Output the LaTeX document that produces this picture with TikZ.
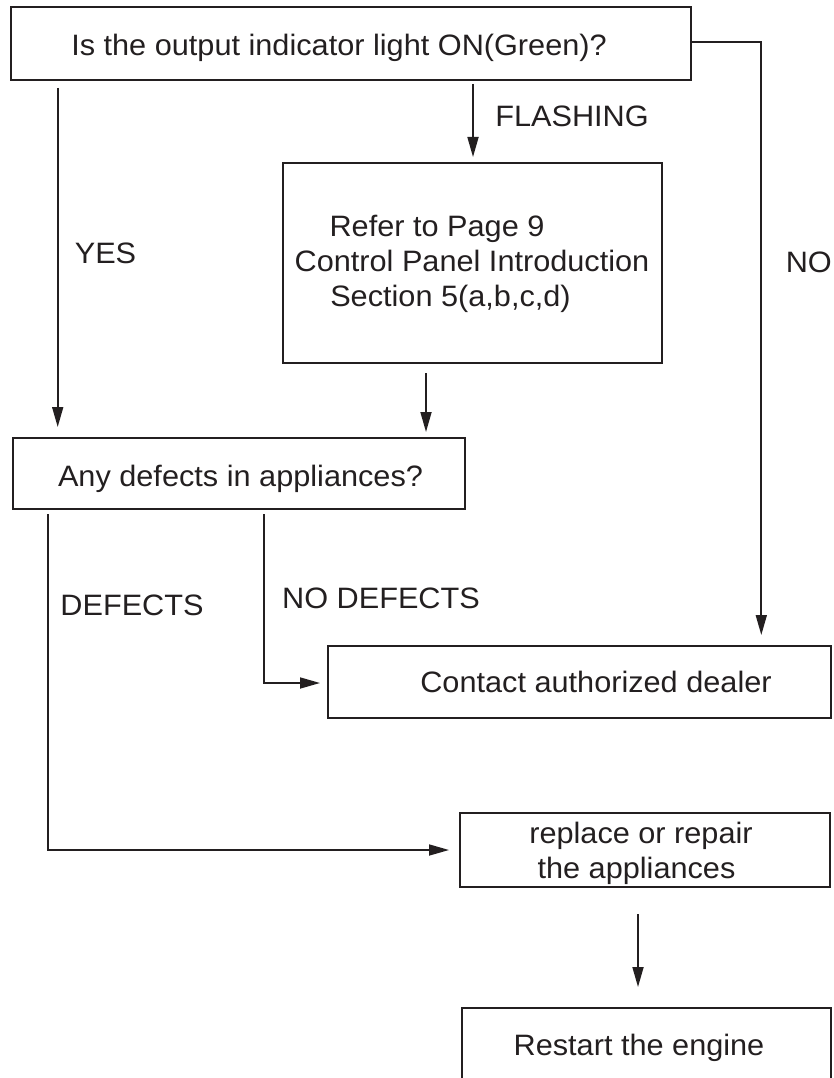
\documentclass[tikz,border=0pt]{standalone}
\usepackage{fontspec}
\setmainfont{Liberation Sans}[FakeStretch=1.04]
\usetikzlibrary{arrows.meta}
\definecolor{ink}{HTML}{231F20}
\begin{document}
\begin{tikzpicture}[x=1pt,y=-1pt,
  box/.style={draw=ink,line width=2pt,inner sep=0pt,fill=none},
  txt/.style={text=ink,font=\fontsize{29.5}{35}\selectfont,inner sep=0pt,anchor=base},
  arr/.style={draw=ink,line width=1.7pt,-{Triangle[length=20pt,width=11pt]}},
  ln/.style={draw=ink,line width=1.7pt}]
\useasboundingbox (0,0) rectangle (833,1078);
% boxes
\node[box,minimum width=680pt,minimum height=72.5pt] (top) at (351,43.75) {};
\node[box,minimum width=378.5pt,minimum height=200pt] (mid) at (472.25,263) {};
\node[box,minimum width=451.5pt,minimum height=71pt] (defq) at (238.75,473.5) {};
\node[box,minimum width=503pt,minimum height=72pt] (dealer) at (579.5,682) {};
\node[box,minimum width=370pt,minimum height=74pt] (repair) at (645,850) {};
\node[box,minimum width=369pt,minimum height=92pt] (restart) at (646.5,1054) {};
% texts
\node[txt] (ttop) at (339,56) {Is the output indicator light ON(Green)?};
\node[txt] (tflash) at (572,127) {FLASHING};
\node[txt] (tmid1) at (437,236) {Refer to Page 9};
\node[txt] (tmid2) at (472,271) {Control Panel Introduction};
\node[txt] (tmid3) at (450.5,306) {Section 5(a,b,c,d)};
\node[txt] (tyes) at (105.5,263) {YES};
\node[txt,anchor=base east] (tno) at (832,272) {NO};
\node[txt] (tdefq) at (240.5,486) {Any defects in appliances?};
\node[txt] (tdef) at (132,615) {DEFECTS};
\node[txt] (tnodef) at (381,608) {NO DEFECTS};
\node[txt] (tdealer) at (596,692) {Contact authorized dealer};
\node[txt] (trep1) at (641,843) {replace or repair};
\node[txt] (trep2) at (636.5,878) {the appliances};
\node[txt] (trestart) at (639,1055) {Restart the engine};
% connector points
\coordinate (yesS) at (57.7,88);
\coordinate (yesE) at (57.7,427);
\coordinate (flS) at (473,84);
\coordinate (flE) at (473,157);
\coordinate (midS) at (426,373);
\coordinate (midE) at (426,432);
\coordinate (noE) at (761.3,635);
\coordinate (defS) at (48,514);
\coordinate (defE) at (449,850);
\coordinate (ndS) at (264,514);
\coordinate (ndE) at (320,683);
\coordinate (repS) at (638,914);
\coordinate (repE) at (638,987);
% connectors
\draw[arr] (yesS) -- (yesE);
\draw[arr] (flS) -- (flE);
\draw[arr] (midS) -- (midE);
\draw[arr] (top.east |- 0,41.7) -| (noE);
\draw[arr] (defS) |- (defE);
\draw[arr] (ndS) |- (ndE);
\draw[arr] (repS) -- (repE);
\end{tikzpicture}
\end{document}
